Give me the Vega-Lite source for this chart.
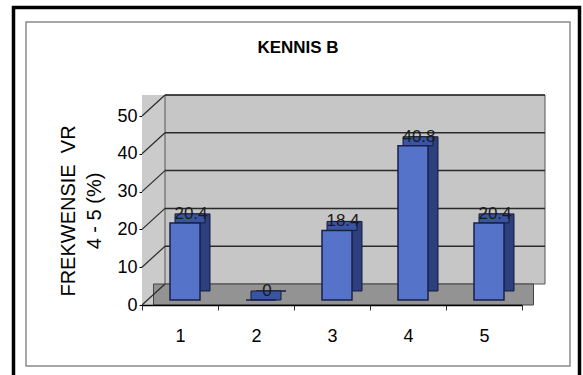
{
  "$schema": "https://vega.github.io/schema/vega-lite/v6.json",
  "width": 380,
  "height": 189,
  "autosize": {"type": "none"},
  "padding": {"left": 142, "top": 116, "right": 61, "bottom": 70},
  "background": "white",
  "config": {
    "view": {"stroke": null},
    "font": "Liberation Sans"
  },
  "title": {
    "text": "KENNIS B",
    "frame": "group",
    "anchor": "middle",
    "dx": -34,
    "offset": 0,
    "dy": 64,
    "baseline": "alphabetic",
    "fontSize": 17,
    "fontWeight": "bold",
    "font": "Liberation Sans",
    "color": "black"
  },
  "datasets": {
    "bars": [
      {"answer": "1", "value": 20.4},
      {"answer": "2", "value": 0},
      {"answer": "3", "value": 18.4},
      {"answer": "4", "value": 40.8},
      {"answer": "5", "value": 20.4}
    ],
    "levels": [{"v": 0}, {"v": 10}, {"v": 20}, {"v": 30}, {"v": 40}, {"v": 50}],
    "one": [{}]
  },
  "layer": [
    {
      "data": {"name": "one"},
      "mark": {"type": "rect", "fill": null, "stroke": "black", "strokeWidth": 3.5, "xOffset": -128.5, "x2Offset": 57.5, "yOffset": 75, "y2Offset": -108.5},
      "encoding": {
        "x": {
          "datum": "1",
          "type": "nominal",
          "bandPosition": 0,
          "scale": {"domain": ["1", "2", "3", "4", "5"], "paddingInner": 0, "paddingOuter": 0},
          "axis": {
            "title": null,
            "labelAngle": 0,
            "labelFontSize": 18,
            "labelFont": "Liberation Sans",
            "labelColor": "black",
            "domainColor": "black",
            "domainWidth": 1.5,
            "tickBand": "extent",
            "tickSize": 5,
            "tickColor": "#333333",
            "labelPadding": 17
          }
        },
        "x2": {"datum": "5", "bandPosition": 1},
        "y": {
          "datum": 0,
          "type": "quantitative",
          "scale": {"domain": [0, 50], "nice": false},
          "axis": {
            "title": ["FREKWENSIE\u00a0\u00a0VR", "4 - 5 (%)"],
            "titleFontSize": 20,
            "titleFont": "Liberation Sans",
            "titleFontWeight": "normal",
            "titleColor": "black",
            "titleLineHeight": 26,
            "titlePadding": 12,
            "values": [0, 10, 20, 30, 40, 50],
            "tickCount": 6,
            "labelOverlap": false,
            "labelFontSize": 18,
            "labelFont": "Liberation Sans",
            "labelColor": "black",
            "labelPadding": 2,
            "tickSize": 3,
            "tickColor": "black",
            "domainColor": "black",
            "grid": false
          }
        },
        "y2": {"datum": 50}
      }
    },
    {
      "data": {"name": "one"},
      "mark": {"type": "rect", "fill": null, "stroke": "#8a8a8a", "strokeWidth": 1.5, "xOffset": -116, "x2Offset": 48, "yOffset": 61, "y2Offset": -94},
      "encoding": {
        "x": {"datum": "1", "type": "nominal", "bandPosition": 0},
        "x2": {"datum": "5", "bandPosition": 1},
        "y": {"datum": 0, "type": "quantitative"},
        "y2": {"datum": 50}
      }
    },
    {
      "data": {"name": "one"},
      "mark": {"type": "rect", "fill": "#cbcbcb", "x2Offset": 23, "y2Offset": -21},
      "encoding": {
        "x": {"datum": "1", "type": "nominal", "bandPosition": 0},
        "x2": {"datum": "1", "bandPosition": 0},
        "y": {"datum": 0, "type": "quantitative"},
        "y2": {"datum": 50}
      }
    },
    {
      "data": {"name": "one"},
      "mark": {"type": "rect", "fill": "#c6c6c6", "stroke": "#555555", "strokeWidth": 1, "xOffset": 23, "x2Offset": 23, "yOffset": -21, "y2Offset": -21},
      "encoding": {
        "x": {"datum": "1", "type": "nominal", "bandPosition": 0},
        "x2": {"datum": "5", "bandPosition": 1},
        "y": {"datum": 0, "type": "quantitative"},
        "y2": {"datum": 50}
      }
    },
    {
      "data": {"name": "one"},
      "mark": {"type": "rect", "fill": "#939393", "stroke": "#444444", "strokeWidth": 1, "xOffset": 11.5, "x2Offset": 11.5, "y2Offset": -21},
      "encoding": {
        "x": {"datum": "1", "type": "nominal", "bandPosition": 0},
        "x2": {"datum": "5", "bandPosition": 1},
        "y": {"datum": 0, "type": "quantitative"},
        "y2": {"datum": 0}
      }
    },
    {
      "data": {"name": "levels"},
      "transform": [{"filter": "datum.v > 0"}],
      "mark": {"type": "rule", "stroke": "#2a2a2a", "strokeWidth": 1.5, "xOffset": 23, "x2Offset": 23, "yOffset": -21, "y2Offset": -21},
      "encoding": {
        "x": {"datum": "1", "type": "nominal", "bandPosition": 0},
        "x2": {"datum": "5", "bandPosition": 1},
        "y": {"field": "v", "type": "quantitative"},
        "y2": {"field": "v"}
      }
    },
    {
      "data": {"name": "levels"},
      "mark": {"type": "rule", "stroke": "#2a2a2a", "strokeWidth": 1.2, "x2Offset": 23, "y2Offset": -21},
      "encoding": {
        "x": {"datum": "1", "type": "nominal", "bandPosition": 0},
        "x2": {"datum": "1", "bandPosition": 0},
        "y": {"field": "v", "type": "quantitative"},
        "y2": {"field": "v"}
      }
    },
    {
      "data": {"name": "bars"},
      "mark": {"type": "bar", "size": 30, "fill": "#2d3f7c", "stroke": "#141c3c", "strokeWidth": 1, "xOffset": 15, "yOffset": -14, "y2Offset": -14},
      "encoding": {
        "x": {"field": "answer", "type": "nominal"},
        "y": {"field": "value", "type": "quantitative"}
      }
    },
    {
      "data": {"name": "bars"},
      "mark": {"type": "bar", "size": 30, "fill": "#3a55a0", "stroke": "#141c3c", "strokeWidth": 1, "xOffset": 10, "yOffset": -5, "y2Offset": -14},
      "encoding": {
        "x": {"field": "answer", "type": "nominal"},
        "y": {"field": "value", "type": "quantitative"},
        "y2": {"field": "value"}
      }
    },
    {
      "data": {"name": "bars"},
      "mark": {"type": "bar", "size": 30, "fill": "#5573c9", "stroke": "#18204a", "strokeWidth": 1.5, "xOffset": 5, "yOffset": -5, "y2Offset": -5},
      "encoding": {
        "x": {"field": "answer", "type": "nominal"},
        "y": {"field": "value", "type": "quantitative"}
      }
    },
    {
      "data": {"name": "bars"},
      "mark": {"type": "text", "fontSize": 17, "font": "Liberation Sans", "color": "#1a1a1a", "baseline": "alphabetic", "dx": 11, "dy": -9},
      "encoding": {
        "x": {"field": "answer", "type": "nominal"},
        "y": {"field": "value", "type": "quantitative"},
        "text": {"field": "value", "type": "quantitative", "format": ".1~f"}
      }
    }
  ]
}
